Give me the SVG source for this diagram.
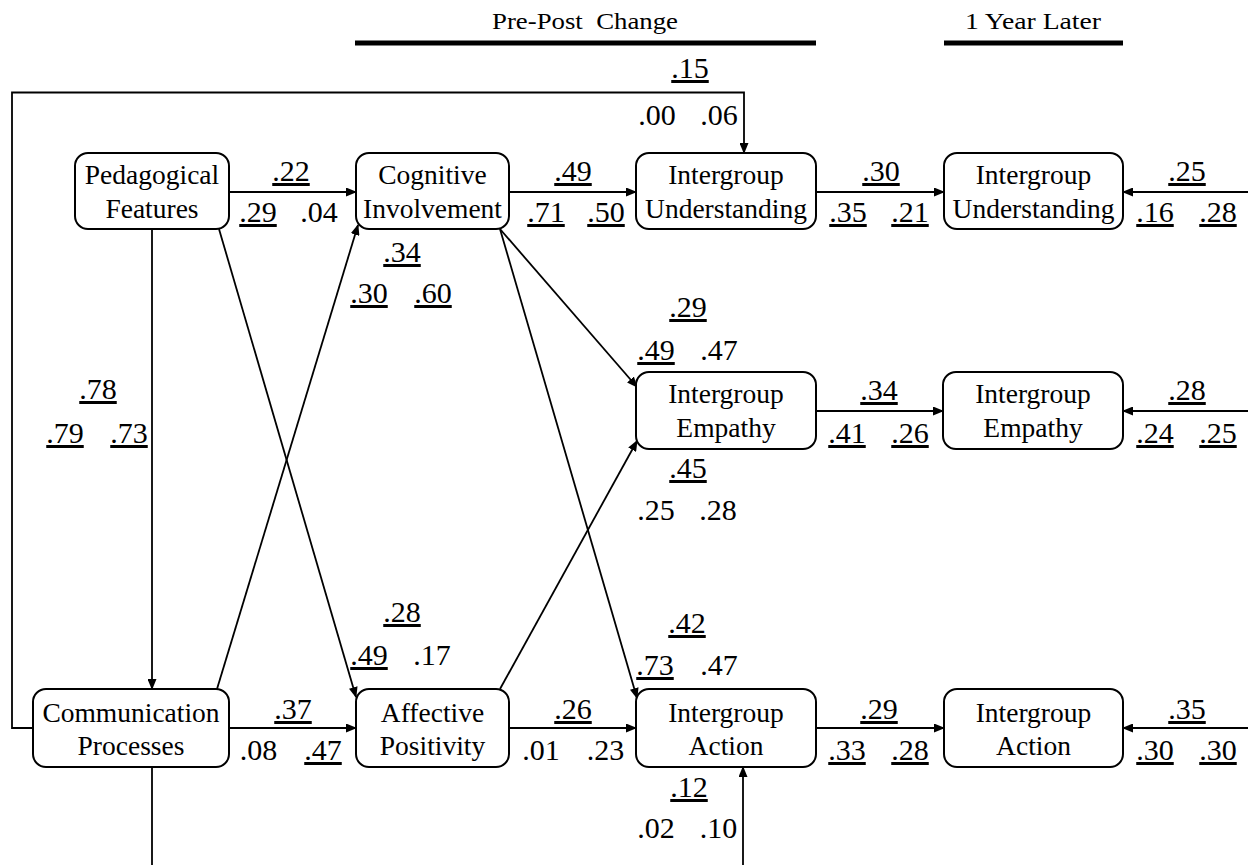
<svg xmlns="http://www.w3.org/2000/svg" width="1248" height="865" viewBox="0 0 1248 865">
  <style>
    .box { fill: #fff; stroke: #000; stroke-width: 2; }
    .lbl { font-family: "Liberation Serif", "Times New Roman", serif; font-size: 27.5px; text-anchor: middle; fill: #000; }
    .num { font-family: "Liberation Serif", "Times New Roman", serif; font-size: 30px; text-anchor: middle; fill: #000; }
    .u { text-decoration: underline; }
    .hdr { font-family: "Liberation Serif", "Times New Roman", serif; font-size: 24px; text-anchor: middle; fill: #000; }
    .edge { fill: none; stroke: #000; stroke-width: 1.8; }
    .arr { marker-end: url(#head); }
    .bar { stroke: #000; stroke-width: 5; }
  </style>
  <defs>
    <marker id="head" markerUnits="userSpaceOnUse" markerWidth="11" markerHeight="9" refX="10" refY="4.5" orient="auto">
      <path d="M0,0 L11,4.5 L0,9 z" fill="#000"/>
    </marker>
  </defs>
  <rect width="1248" height="865" fill="#fff"/>

  <!-- column headers -->
  <g id="headers">
    <text class="hdr" x="585" y="29" textLength="186" lengthAdjust="spacingAndGlyphs" word-spacing="6">Pre-Post Change</text>
    <line class="bar" x1="355" y1="43" x2="816" y2="43"/>
    <text class="hdr" x="1033" y="29" textLength="136" lengthAdjust="spacingAndGlyphs">1 Year Later</text>
    <line class="bar" x1="944" y1="43" x2="1123" y2="43"/>
  </g>

  <!-- paths -->
  <g id="connectors">
    <line class="edge arr" x1="229" y1="192" x2="356" y2="192"/>
    <line class="edge arr" x1="509" y1="192" x2="636" y2="192"/>
    <line class="edge arr" x1="816" y1="192" x2="944" y2="192"/>
    <line class="edge arr" x1="1248" y1="192" x2="1123" y2="192"/>
    <line class="edge arr" x1="816" y1="411" x2="943" y2="411"/>
    <line class="edge arr" x1="1248" y1="411" x2="1123" y2="411"/>
    <line class="edge arr" x1="229" y1="728" x2="356" y2="728"/>
    <line class="edge arr" x1="509" y1="728" x2="636" y2="728"/>
    <line class="edge arr" x1="816" y1="728" x2="944" y2="728"/>
    <line class="edge arr" x1="1248" y1="728" x2="1123" y2="728"/>
    <line class="edge arr" x1="152" y1="229" x2="152" y2="689"/>
    <line class="edge" x1="152" y1="767" x2="152" y2="865"/>
    <line class="edge arr" x1="743" y1="865" x2="743" y2="767"/>
    <polyline class="edge arr" points="33,728 12,728 12,92.5 744,92.5 744,153"/>
    <line class="edge arr" x1="219" y1="229" x2="356" y2="697"/>
    <line class="edge arr" x1="217" y1="689" x2="358" y2="225"/>
    <line class="edge arr" x1="500" y1="229" x2="637" y2="387"/>
    <line class="edge arr" x1="500" y1="229" x2="637" y2="698"/>
    <line class="edge arr" x1="500" y1="689" x2="637" y2="441"/>
  </g>

  <!-- variables -->
  <g id="pedagogical">
    <rect class="box" x="75" y="153" width="154" height="76" rx="13"/>
    <text class="lbl" x="152" y="184">Pedagogical</text>
    <text class="lbl" x="152" y="218">Features</text>
  </g>
  <g id="cognitive">
    <rect class="box" x="356" y="153" width="153" height="76" rx="13"/>
    <text class="lbl" x="432.5" y="184">Cognitive</text>
    <text class="lbl" x="432.5" y="218">Involvement</text>
  </g>
  <g id="understanding-post">
    <rect class="box" x="636" y="153" width="180" height="76" rx="13"/>
    <text class="lbl" x="726" y="184">Intergroup</text>
    <text class="lbl" x="726" y="218">Understanding</text>
  </g>
  <g id="understanding-later">
    <rect class="box" x="944" y="153" width="179" height="76" rx="13"/>
    <text class="lbl" x="1033.5" y="184">Intergroup</text>
    <text class="lbl" x="1033.5" y="218">Understanding</text>
  </g>
  <g id="empathy-post">
    <rect class="box" x="636" y="372" width="180" height="77" rx="13"/>
    <text class="lbl" x="726" y="403">Intergroup</text>
    <text class="lbl" x="726" y="437">Empathy</text>
  </g>
  <g id="empathy-later">
    <rect class="box" x="943" y="372" width="180" height="77" rx="13"/>
    <text class="lbl" x="1033" y="403">Intergroup</text>
    <text class="lbl" x="1033" y="437">Empathy</text>
  </g>
  <g id="communication">
    <rect class="box" x="33" y="689" width="196" height="78" rx="13"/>
    <text class="lbl" x="131" y="722">Communication</text>
    <text class="lbl" x="131" y="755">Processes</text>
  </g>
  <g id="affective">
    <rect class="box" x="356" y="689" width="153" height="78" rx="13"/>
    <text class="lbl" x="432.5" y="722">Affective</text>
    <text class="lbl" x="432.5" y="755">Positivity</text>
  </g>
  <g id="action-post">
    <rect class="box" x="636" y="689" width="180" height="78" rx="13"/>
    <text class="lbl" x="726" y="722">Intergroup</text>
    <text class="lbl" x="726" y="755">Action</text>
  </g>
  <g id="action-later">
    <rect class="box" x="944" y="689" width="179" height="78" rx="13"/>
    <text class="lbl" x="1033.5" y="722">Intergroup</text>
    <text class="lbl" x="1033.5" y="755">Action</text>
  </g>

  <!-- path coefficients -->
  <g id="coefficients">
    <text class="num u" x="291" y="181">.22</text>
    <text class="num u" x="258" y="222">.29</text>
    <text class="num" x="319" y="222">.04</text>

    <text class="num u" x="573" y="181">.49</text>
    <text class="num u" x="546" y="222">.71</text>
    <text class="num u" x="606" y="222">.50</text>

    <text class="num u" x="881" y="181">.30</text>
    <text class="num u" x="848" y="222">.35</text>
    <text class="num u" x="910" y="222">.21</text>

    <text class="num u" x="1187" y="181">.25</text>
    <text class="num u" x="1155" y="222">.16</text>
    <text class="num u" x="1218" y="222">.28</text>

    <text class="num u" x="690" y="78">.15</text>
    <text class="num" x="657" y="125">.00</text>
    <text class="num" x="719" y="125">.06</text>

    <text class="num u" x="402" y="262">.34</text>
    <text class="num u" x="369" y="303">.30</text>
    <text class="num u" x="433" y="303">.60</text>

    <text class="num u" x="688" y="317">.29</text>
    <text class="num u" x="656" y="360">.49</text>
    <text class="num" x="719" y="360">.47</text>

    <text class="num u" x="879" y="400">.34</text>
    <text class="num u" x="847" y="443">.41</text>
    <text class="num u" x="910" y="443">.26</text>

    <text class="num u" x="1187" y="400">.28</text>
    <text class="num u" x="1155" y="443">.24</text>
    <text class="num u" x="1218" y="443">.25</text>

    <text class="num u" x="688" y="478">.45</text>
    <text class="num" x="656" y="520">.25</text>
    <text class="num" x="718" y="520">.28</text>

    <text class="num u" x="98" y="399">.78</text>
    <text class="num u" x="65" y="443">.79</text>
    <text class="num u" x="129" y="443">.73</text>

    <text class="num u" x="402" y="622">.28</text>
    <text class="num u" x="369" y="665">.49</text>
    <text class="num" x="432" y="665">.17</text>

    <text class="num u" x="687" y="633">.42</text>
    <text class="num u" x="655" y="675">.73</text>
    <text class="num" x="719" y="675">.47</text>

    <text class="num u" x="293" y="719">.37</text>
    <text class="num" x="258.5" y="760">.08</text>
    <text class="num u" x="323" y="760">.47</text>

    <text class="num u" x="573" y="719">.26</text>
    <text class="num" x="541" y="760">.01</text>
    <text class="num" x="605.5" y="760">.23</text>

    <text class="num u" x="879" y="719">.29</text>
    <text class="num u" x="847" y="760">.33</text>
    <text class="num u" x="910" y="760">.28</text>

    <text class="num u" x="1187" y="719">.35</text>
    <text class="num u" x="1155" y="760">.30</text>
    <text class="num u" x="1218" y="760">.30</text>

    <text class="num u" x="689" y="797">.12</text>
    <text class="num" x="656" y="838">.02</text>
    <text class="num" x="718.5" y="838">.10</text>
  </g>
</svg>
